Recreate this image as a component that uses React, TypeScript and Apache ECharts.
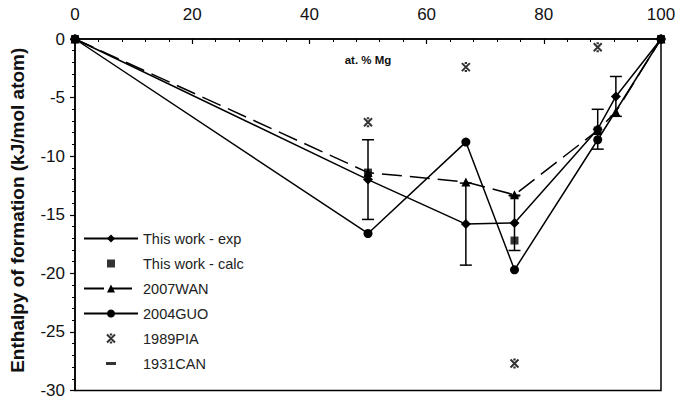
import React, { useEffect, useRef } from "react";
import * as echarts from "echarts";

// ---- data ----
const expX = [0, 50, 66.7, 75, 89.2, 92.3, 100];
const expY = [0, -12.0, -15.8, -15.7, -7.7, -4.9, 0];
const expErr = [0, 3.4, 3.5, 2.35, 1.7, 1.7, 0];

const calcX = [0, 50, 75, 89.2, 100];
const calcY = [0, -11.4, -17.2, -7.8, 0];

const wanX = [0, 50, 66.7, 75, 89.2, 92.3, 100];
const wanY = [0, -11.4, -12.2, -13.3, -7.8, -6.2, 0];

const guoX = [0, 50, 66.7, 75, 89.2, 100];
const guoY = [0, -16.6, -8.8, -19.7, -8.6, 0];

const piaX = [50, 66.7, 75, 89.2];
const piaY = [-7.1, -2.4, -27.7, -0.7];

const canX = [75];
const canY = [-13.4];

const seriesNames = [
  "This work - exp",
  "This work - calc",
  "2007WAN",
  "2004GUO",
  "1989PIA",
  "1931CAN",
];

const xTitle = "at. % Mg";
const yTitle = "Enthalpy of formation (kJ/mol atom)";

const pairs = (xs: number[], ys: number[]) => xs.map((x, i) => [x, ys[i]]);

const FONT = "Liberation Sans, Arial, Helvetica, sans-serif";
const ASTERISK = "path://M0 0 L10 10 M0 10 L10 0 M3.5 0 L6.5 0 M3.5 10 L6.5 10";
// legend icons (54 x 10 box, marker centred)
const BOX = "M0 0 L0.01 0 M54 10 L54.01 10 ";
const ICON_CALC = "path://" + BOX + "M23 1 H31 V9 H23 Z";
const ICON_PIA = "path://" + BOX + "M23 1 L31 9 M23 9 L31 1 M25.8 1 L28.2 1 M25.8 9 L28.2 9";
const ICON_CAN = "path://" + BOX + "M22 3.5 H32 V6.5 H22 Z";

export default function App() {
  const ref = useRef<HTMLDivElement>(null);
  useEffect(() => {
    if (!ref.current) return;
    const chart = echarts.init(ref.current, undefined, { renderer: "svg" });
    const errData = expX
      .map((x, i) => [x, expY[i] - expErr[i], expY[i] + expErr[i]])
      .filter((_, i) => expErr[i] > 0);
    const lineStyle = { color: "#000", width: 1.5 };
    chart.setOption({
      animation: false,
      backgroundColor: "#fff",
      textStyle: { fontFamily: FONT },
      grid: {
        left: 75,
        right: 20,
        top: 39,
        bottom: 2,
        show: true,
        borderColor: "#000",
        borderWidth: 1.5,
        containLabel: false,
      },
      legend: {
        orient: "vertical",
        left: 78,
        top: 226,
        itemWidth: 54,
        itemHeight: 10,
        itemGap: 10,
        data: [
          { name: seriesNames[0] },
          { name: seriesNames[1], icon: ICON_CALC },
          { name: seriesNames[2] },
          { name: seriesNames[3] },
          { name: seriesNames[4], icon: ICON_PIA },
          { name: seriesNames[5], icon: ICON_CAN },
        ],
        textStyle: { fontFamily: FONT, fontSize: 14.5, color: "#222" },
        selectedMode: false,
      },
      xAxis: {
        type: "value",
        position: "top",
        min: 0,
        max: 100,
        interval: 20,
        name: xTitle,
        nameLocation: "middle",
        nameGap: -27,
        nameTextStyle: { fontFamily: FONT, fontSize: 11.5, fontWeight: "bold", color: "#111" },
        axisLine: { onZero: false, lineStyle: { color: "#000", width: 1.5 } },
        axisTick: { inside: true, length: 5, lineStyle: { color: "#000", width: 1.2 } },
        minorTick: { show: true, splitNumber: 5, length: 3, lineStyle: { color: "#000", width: 1 } },
        axisLabel: { fontFamily: FONT, fontSize: 17, color: "#111", margin: 16 },
        splitLine: { show: false },
      },
      yAxis: {
        type: "value",
        min: -30,
        max: 0,
        interval: 5,
        name: yTitle,
        nameLocation: "middle",
        nameGap: 48,
        nameTextStyle: {
          fontFamily: FONT,
          fontSize: 19,
          fontWeight: "bold",
          color: "#111",
          padding: [0, 0, 0, 9],
        },
        axisLine: { onZero: false, lineStyle: { color: "#000", width: 1.5 } },
        axisTick: { inside: false, length: 5, lineStyle: { color: "#000", width: 1.2 } },
        minorTick: { show: true, splitNumber: 5, length: 3, lineStyle: { color: "#000", width: 1 } },
        axisLabel: { fontFamily: FONT, fontSize: 17, color: "#111", margin: 10 },
        splitLine: { show: false },
      },
      series: [
        {
          name: seriesNames[0],
          type: "line",
          data: pairs(expX, expY),
          symbol: "diamond",
          symbolSize: 10,
          itemStyle: { color: "#000" },
          lineStyle,
          z: 3,
        },
        {
          name: seriesNames[1],
          type: "scatter",
          data: pairs(calcX, calcY),
          symbol: "rect",
          symbolSize: 8,
          itemStyle: { color: "#000" },
          z: 4,
        },
        {
          name: seriesNames[2],
          type: "line",
          data: pairs(wanX, wanY),
          symbol: "triangle",
          symbolSize: 9,
          itemStyle: { color: "#000" },
          lineStyle: { color: "#000", width: 1.5, type: [20, 8] },
          z: 3,
        },
        {
          name: seriesNames[3],
          type: "line",
          data: pairs(guoX, guoY),
          symbol: "circle",
          symbolSize: 9,
          itemStyle: { color: "#000" },
          lineStyle,
          z: 3,
        },
        {
          name: seriesNames[4],
          type: "scatter",
          data: pairs(piaX, piaY),
          symbol: ASTERISK,
          symbolSize: 8,
          itemStyle: { color: "#000", borderColor: "#000", borderWidth: 2 },
          z: 4,
        },
        {
          name: seriesNames[5],
          type: "scatter",
          data: pairs(canX, canY),
          symbol: "rect",
          symbolSize: [10, 3],
          itemStyle: { color: "#000" },
          z: 4,
        },
        {
          name: "errors",
          type: "custom",
          data: errData,
          encode: { x: 0, y: [1, 2] },
          z: 2,
          renderItem: (params: any, api: any) => {
            const x = api.value(0);
            const top = api.coord([x, api.value(2)]);
            const bot = api.coord([x, api.value(1)]);
            const w = 6;
            const st = { stroke: "#000", lineWidth: 1.5 };
            return {
              type: "group",
              children: [
                { type: "line", shape: { x1: top[0], y1: top[1], x2: bot[0], y2: bot[1] }, style: st },
                { type: "line", shape: { x1: top[0] - w, y1: top[1], x2: top[0] + w, y2: top[1] }, style: st },
                { type: "line", shape: { x1: bot[0] - w, y1: bot[1], x2: bot[0] + w, y2: bot[1] }, style: st },
              ],
            };
          },
        },
      ],
    });
    return () => chart.dispose();
  }, []);
  return (
    <div
      ref={ref}
      style={{ position: "fixed", left: 0, top: 0, width: 681, height: 399, background: "#fff" }}
    />
  );
}
